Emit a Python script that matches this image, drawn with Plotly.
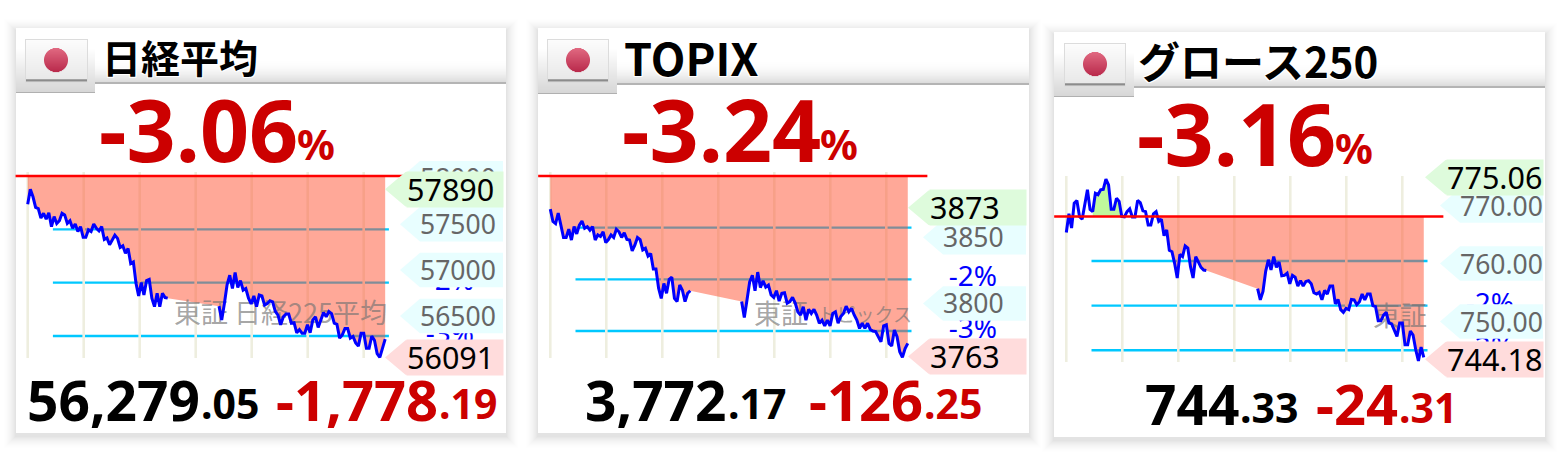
import math
import numpy as np
import plotly.graph_objects as go

W, H = 1566, 468

# ---- data: percent change from the previous close ----
NIKKEI_AM = [-0.53,-0.25,-0.39,-0.59,-0.61,-0.79,-0.70,-0.81,-0.69,-0.95,-0.76,-0.89,-0.84,-0.70,-0.73,-0.89,-0.84,-0.98,
             -0.90,-1.04,-0.95,-1.15,-1.15,-1.01,-1.04,-0.90,-0.98,-1.03,-0.95,-1.19,-1.16,-1.29,-1.20,-1.11,-1.17,-1.34,
             -1.31,-1.45,-1.36,-1.64,-1.61,-2.01,-2.25,-2.00,-2.23,-1.96,-1.94,-2.29,-2.45,-2.20,-2.45,-2.20,-2.28,-2.29]
NIKKEI_PM = [-2.44,-2.70,-2.39,-2.04,-1.86,-2.11,-1.81,-2.09,-1.96,-2.14,-2.11,-2.29,-2.40,-2.25,-2.45,-2.23,-2.25,-2.42,
             -2.39,-2.34,-2.36,-2.54,-2.61,-2.79,-2.64,-2.59,-2.59,-2.76,-2.75,-2.94,-2.88,-2.95,-2.95,-2.79,-2.94,-2.70,
             -2.64,-2.84,-2.70,-2.56,-2.64,-2.54,-2.58,-2.76,-2.78,-3.04,-2.98,-2.86,-2.86,-3.04,-3.01,-3.13,-3.19,-2.95,
             -2.95,-3.23,-3.23,-3.00,-3.08,-3.33,-3.40,-3.23,-3.06]
TOPIX_AM = [-0.64,-0.88,-0.92,-0.72,-0.95,-1.19,-1.19,-1.03,-1.24,-0.98,-1.12,-0.95,-0.87,-1.01,-0.98,-1.05,-0.98,-1.24,
            -1.14,-1.17,-1.08,-1.29,-1.23,-1.14,-1.19,-1.03,-1.08,-1.19,-1.10,-1.23,-1.24,-1.45,-1.34,-1.19,-1.23,-1.43,
            -1.40,-1.55,-1.50,-1.80,-1.80,-2.17,-2.37,-2.08,-2.27,-2.00,-1.96,-2.37,-2.43,-2.11,-2.21,-2.43,-2.27,-2.22]
TOPIX_PM = [-2.43,-2.74,-2.40,-2.05,-1.92,-2.22,-1.86,-2.16,-2.03,-2.15,-2.11,-2.30,-2.35,-2.22,-2.42,-2.27,-2.26,-2.46,
            -2.43,-2.35,-2.46,-2.63,-2.69,-2.53,-2.79,-2.58,-2.66,-2.58,-2.69,-2.85,-2.79,-2.90,-2.79,-2.90,-2.66,-2.63,
            -2.85,-2.72,-2.66,-2.52,-2.63,-2.56,-2.69,-2.79,-2.95,-2.85,-2.95,-2.85,-2.97,-3.00,-3.01,-3.11,-3.21,-2.90,
            -2.88,-3.24,-3.29,-2.98,-3.11,-3.40,-3.51,-3.34,-3.24]
GROWTH_AM = [-0.36,0.06,-0.26,0.30,0.36,0.0,-0.06,0.26,0.60,0.16,0.11,0.52,0.49,0.60,0.61,0.84,0.71,0.16,0.16,0.41,0.34,0.0,
             -0.01,0.11,0.17,-0.01,-0.01,0.36,0.31,0.13,0.11,-0.19,-0.19,0.06,0.11,-0.11,-0.06,-0.43,-0.30,-0.76,-0.79,-1.05,
             -1.38,-0.85,-0.90,-0.66,-0.71,-1.12,-1.38,-0.90,-1.01,-1.14,-1.20,-1.21]
GROWTH_PM = [-1.62,-1.87,-1.68,-1.23,-0.97,-1.20,-0.90,-1.14,-1.02,-1.33,-1.32,-1.27,-1.51,-1.32,-1.36,-1.56,-1.44,-1.56,
             -1.46,-1.44,-1.51,-1.71,-1.74,-1.70,-1.87,-1.66,-1.74,-1.56,-1.56,-1.96,-1.86,-2.09,-2.15,-2.06,-2.09,-1.86,
             -1.87,-1.98,-1.91,-1.74,-1.87,-1.74,-1.74,-2.00,-2.02,-2.34,-2.34,-2.21,-2.15,-2.39,-2.41,-2.54,-2.69,-2.39,
             -2.39,-2.88,-2.88,-2.57,-2.66,-2.99,-3.24,-2.93,-3.16]

AM_START, AM_END, PM_START, PM_END = 0, 150, 205, 383      # minutes after 9:00
HOUR_TICKS = [0, 60, 120, 180, 240, 300, 360]
PCT_LINES = [-1, -2, -3]
PCT_LINE_X = [27, 387]
RED_X = [-13, 404]
BLUE = "#0000ff"

PANELS = [
    dict(title="日経平均", title_size=39, title_x=100, pct="-3.06", pct_end=298, pct_y=128,
         close="56,279", close_dec=".05", chg="-1,778", chg_dec=".19", close_end=202, chg_end=440, bottom_y=399,
         am=NIKKEI_AM, pm=NIKKEI_PM, prev=58057.24, card=(16, 506, 28, 433), header_bottom=82,
         button=(26, 87, 40, 79), flag=(56, 60), tab_r=95, x0=27.7, red_y=176, per_pct=53.33,
         v_top=172, v_bot=358, tag_r=503, ticks=[58000, 57500, 57000, 56500], tick_fmt="{:.0f}",
         hi=57890, lo=56091, hi_label="57890", lo_label="56091",
         wm=[("東証 日経225平均", 387, 27)], wm_y=316, blue=[-2, -3], salmon_from=0, green=None),
    dict(title="TOPIX", title_size=45, title_x=622, pct="-3.24", pct_end=821, pct_y=128,
         close="3,772", close_dec=".17", chg="-126", chg_dec=".25", close_end=729, chg_end=925, bottom_y=399,
         am=TOPIX_AM, pm=TOPIX_PM, prev=3898.42, card=(538, 1029, 28, 433), header_bottom=83,
         button=(548, 608, 40, 79), flag=(578, 60), tab_r=617, x0=550.3, red_y=176, per_pct=51.67,
         v_top=172, v_bot=358, tag_r=1026, ticks=[3850, 3800], tick_fmt="{:.0f}",
         hi=3873, lo=3763, hi_label="3873", lo_label="3763",
         wm=[("東証", 808, 27), ("トピックス", 912, 19)], wm_y=317, blue=[-2, -3], salmon_from=0, green=None),
    dict(title="グロース250", title_size=42, title_x=1136, pct="-3.16", pct_end=1336, pct_y=132,
         close="744", close_dec=".33", chg="-24", chg_dec=".31", close_end=1241, chg_end=1400, bottom_y=403,
         am=GROWTH_AM, pm=GROWTH_PM, prev=768.64, card=(1054, 1545, 32, 437), header_bottom=86,
         button=(1065, 1125, 44, 83), flag=(1095, 64), tab_r=1134, x0=1066.3, red_y=216.5, per_pct=44.57,
         v_top=176, v_bot=362, tag_r=1543, ticks=[770, 760, 750], tick_fmt="{:.2f}",
         hi=775.06, lo=744.18, hi_label="775.06", lo_label="744.18",
         wm=[("東証", 1427, 27)], wm_y=319, blue=[-2, -3], salmon_from=35, green=(10, 22)),
]

NUM_FONT = "Noto Sans, Open Sans, sans-serif"
JP_FONT = "Noto Sans CJK JP, Noto Sans, sans-serif"
RED_TXT = "#cc0000"
PX_PER_MIN = 56 / 60


def fx(x):
    return x / W


def fy(y):
    return 1 - y / H


def lerp(a, b, t):
    return "#%02x%02x%02x" % tuple(round(a[i] + (b[i] - a[i]) * t) for i in range(3))


shapes, annos, traces = [], [], []
layout_axes = {}


def rect(x0, y0, x1, y1, color, layer="below"):
    shapes.append(dict(type="rect", xref="paper", yref="paper", x0=fx(x0), x1=fx(x1), y0=fy(y1), y1=fy(y0),
                       fillcolor=color, line=dict(width=0), layer=layer))


def tag(tip, body, right, yc, color, h=34.5):
    path = (f"M {fx(tip)} {fy(yc)} L {fx(body)} {fy(yc-h/2)} L {fx(right)} {fy(yc-h/2)} "
            f"L {fx(right)} {fy(yc+h/2)} L {fx(body)} {fy(yc+h/2)} Z")
    shapes.append(dict(type="path", path=path, xref="paper", yref="paper", fillcolor=color,
                       line=dict(width=0), layer="above"))


def text(x, y, s, size, color, anchor="left", bold=True, family=NUM_FONT, **kw):
    annos.append(dict(x=fx(x), y=fy(y), xref="paper", yref="paper", text=f"<b>{s}</b>" if bold else s, showarrow=False,
                      xanchor=anchor, yanchor="middle", font=dict(size=size, color=color, family=family), **kw))


for n, p in enumerate(PANELS):
    suffix = "" if n == 0 else str(n + 1)
    cl, cr, ct, cb = p["card"]

    # card shadow
    for k in range(13, 0, -1):
        a = 0.0012 * (14 - k)
        rect(cl - k, ct - k + 3, cr + k, cb + k + 3, f"rgba(0,0,0,{a:.4f})")
    rect(cl, ct, cr, cb, "#ffffff")

    # header gradient
    hb = p["header_bottom"]
    for y in range(hb - 24, hb):
        t = (y - (hb - 24)) / 24
        rect(cl, y, cr, y + 1.2, lerp((255, 255, 255), (218, 218, 218), t * t))
    rect(cl, hb, cr, hb + 2, "#b4b4b4")

    # tab and button
    bl, br, bt, bb = p["button"]
    for y in range(bt + 8, hb + 10):
        t = (y - bt - 8) / (hb + 10 - bt - 8)
        rect(cl, y, p["tab_r"], y + 1.2, lerp((255, 255, 255), (214, 214, 214), t))
    rect(cl, hb + 10, p["tab_r"], hb + 11, "#b0b0b0")
    rect(bl - 1, bt - 1, br + 1, bb + 4, "#dcdcdc")
    rect(bl, bt, br, bb + 3, "#b8b8b8")
    rect(bl, bt, br, bb + 2, "#8c8c8c")
    for y in range(bt, bb):
        t = (y - bt) / (bb - bt)
        rect(bl, y, br, y + 1.2, lerp((252, 252, 252), (232, 232, 232), t))
    cx, cy = p["flag"]
    r = 12
    for dy in np.arange(-r, r, 1.0):
        half = math.sqrt(max(r * r - (dy + 0.5) ** 2, 0))
        rect(cx - half, cy + dy, cx + half, cy + dy + 1.1, lerp((224, 104, 128), (184, 40, 74), (dy + r) / (2 * r)))

    # axes
    xl, xr = p["x0"] - 20, p["x0"] + 490
    yt, yb = 150, 385
    xaxis = dict(domain=[fx(xl), fx(xr)], range=[(xl - p["x0"]) / PX_PER_MIN, (xr - p["x0"]) / PX_PER_MIN],
                 visible=False, anchor="y" + suffix, fixedrange=True)
    yaxis = dict(domain=[fy(yb), fy(yt)], range=[(p["red_y"] - yb) / p["per_pct"], (p["red_y"] - yt) / p["per_pct"]],
                 visible=False, anchor="x" + suffix, fixedrange=True)
    layout_axes["xaxis" + suffix] = xaxis
    layout_axes["yaxis" + suffix] = yaxis
    ax = dict(xaxis="x" + suffix, yaxis="y" + suffix, showlegend=False, hoverinfo="skip")

    def add(**kw):
        traces.append(go.Scatter(**ax, **kw))

    def y_px(pct):
        return p["red_y"] - pct * p["per_pct"]

    def m_of(px):
        return (px - p["x0"]) / PX_PER_MIN

    def pct_of_px(px):
        return (p["red_y"] - px) / p["per_pct"]

    def pct_of_price(v):
        return (v / p["prev"] - 1) * 100

    # percent rules
    cx_vals, cy_vals = [], []
    for lv in PCT_LINES:
        cx_vals += PCT_LINE_X + [None]
        cy_vals += [lv, lv, None]
    add(x=cx_vals, y=cy_vals, mode="lines", line=dict(color="#00c8ff", width=2.4))

    # hour rules
    vx, vy = [], []
    for m in HOUR_TICKS:
        vx += [m, m, None]
        vy += [pct_of_px(p["v_top"]), pct_of_px(p["v_bot"]), None]
    add(x=vx, y=vy, mode="lines", line=dict(color="#eeeedf", width=2.6))

    am_x = np.linspace(AM_START, AM_END, len(p["am"])).tolist()
    pm_x = np.linspace(PM_START, PM_END, len(p["pm"])).tolist()

    # salmon fill under the previous close
    fx_vals = (am_x + pm_x)[p["salmon_from"]:]
    fy_vals = (p["am"] + p["pm"])[p["salmon_from"]:]
    add(x=[fx_vals[0], fx_vals[-1]], y=[0, 0], mode="lines", line=dict(width=0))
    add(x=fx_vals, y=fy_vals, mode="lines", line=dict(width=0), fill="tonexty", fillcolor="rgba(255,82,50,0.5)")

    # green fill above the previous close
    if p["green"]:
        a, b = p["green"]
        add(x=[am_x[a], am_x[b - 1]], y=[0, 0], mode="lines", line=dict(width=0))
        add(x=am_x[a:b], y=p["am"][a:b], mode="lines", line=dict(width=0), fill="tonexty", fillcolor="#c0f89c")

    # watermark
    for label, end_px, size in p["wm"]:
        add(x=[m_of(end_px)], y=[pct_of_px(p["wm_y"])], mode="text", text=[label], textposition="middle left",
            textfont=dict(size=size, color="rgba(115,115,115,0.65)", family=JP_FONT), cliponaxis=False)

    # price line
    add(x=am_x + [None] + pm_x, y=p["am"] + [None] + p["pm"], mode="lines",
        line=dict(color=BLUE, width=3))

    # previous close
    add(x=RED_X, y=[0, 0], mode="lines", line=dict(color="#ff0000", width=2.6), cliponaxis=False)

    # percent labels, hidden in part by the price tags
    for lv in p["blue"]:
        add(x=[m_of(p["tag_r"] - 53)], y=[lv], mode="text", text=[f"{lv}%"], textposition="middle center",
            textfont=dict(size=28, color=BLUE, family=NUM_FONT), cliponaxis=False)

    # price ticks
    R = p["tag_r"]
    for v in p["ticks"]:
        yc = y_px(pct_of_price(v)) - 3
        tag(R - 103, R - 83, R, yc, "#e8feff")
        text(R - 85, yc, p["tick_fmt"].format(v), 26.5, "#666666", bold=False)

    # high and low tags
    for value, label, color, dy in ((p["hi"], p["hi_label"], "#defbdc", -2), (p["lo"], p["lo_label"], "#ffdcdc", 1)):
        yc = y_px(pct_of_price(value)) + dy
        tag(R - 118, R - 97.5, R - 96, yc, color)
        text(R - 97, yc, label, 30.5, "#000000", bold=False, bgcolor=color, width=96, height=34.5,
             align="left", borderpad=0)

    # title and headline numbers
    text(p["title_x"], (ct + hb) / 2 + 1, p["title"], p["title_size"], "#000000", family=JP_FONT)
    annos[-1]["font"]["shadow"] = "1px 1px 0 #fff, -1px -1px 0 #fff, 1px -1px 0 #fff, -1px 1px 0 #fff"
    text(p["pct_end"] + 2, p["pct_y"], p["pct"], 86, RED_TXT, anchor="right")
    text(p["pct_end"] - 3, p["pct_y"] + 15, "%", 42, RED_TXT)

    text(p["close_end"], p["bottom_y"], p["close"], 55, "#000000", anchor="right")
    text(p["close_end"] - 3, p["bottom_y"] + 4, p["close_dec"], 41, "#000000")
    text(p["chg_end"], p["bottom_y"], p["chg"], 56, RED_TXT, anchor="right")
    text(p["chg_end"] - 3, p["bottom_y"] + 4, p["chg_dec"], 41, RED_TXT)

fig = go.Figure(data=traces)
fig.update_layout(width=W, height=H, margin=dict(l=0, r=0, t=0, b=0), paper_bgcolor="#ffffff",
                  plot_bgcolor="rgba(0,0,0,0)", shapes=shapes, annotations=annos, showlegend=False,
                  **layout_axes)
fig.write_html("out.html", post_script="document.body.style.margin='0';document.body.style.overflow='hidden';",
               config=dict(displayModeBar=False))
